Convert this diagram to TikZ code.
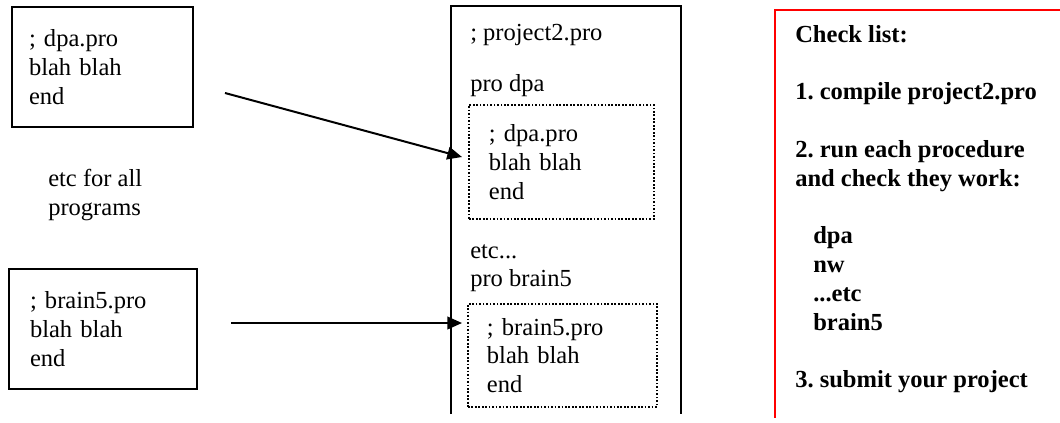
\documentclass[tikz,border=0pt]{standalone}
\usepackage{fontspec}
\setmainfont{Liberation Serif}
\usetikzlibrary{arrows.meta}
\frenchspacing

\newcommand{\codefont}{\fontsize{18.4}{21.6}\selectfont}

\tikzset{
  codebox/.style={draw, line width=1.5pt, anchor=north west, align=left, inner ysep=0pt, font=\codefont},
  inclbox/.style={codebox, line width=1.4pt, dash pattern={on 1.3pt off 1.3pt}},
  plaintext/.style={inner sep=0pt, align=left, font=\codefont},
  arrowline/.style={line width=1.5pt, -{Triangle[length=11pt, width=9.5pt]}}
}

\begin{document}
\begin{tikzpicture}[x=0.75pt,y=0.75pt,yscale=-1,xscale=1]
    \useasboundingbox (0,0) rectangle (1060,422);

    % Single program files
    \node [codebox, inner xsep=12.75pt, text width=110.25pt, minimum height=90pt] (dpafile) at (11,6) {; dpa.pro\\blah blah\\end};
    \node [codebox, inner xsep=15.75pt, text width=109.5pt, minimum height=90pt] (brainfile) at (8,268) {; brain5.pro\\blah blah\\end};
    % Text Node
    \node [plaintext, anchor=north west] (etcnote) at (48,169) {etc for all\\programs};

    % Project file (open at the bottom)
    \draw [line width=1.5pt] (451,414) -- (451,6) -- (681,6) -- (681,414);
    % Text Node
    \node [plaintext, anchor=base west] (projhead) at (470,40) {; project2.pro};
    % Text Node
    \node [plaintext, anchor=base west] (prodpa) at (470,91) {pro dpa};
    \node [inclbox, inner xsep=15pt, text width=108.75pt, minimum height=85.5pt] (dpabox) at (468,104) {; dpa.pro\\blah blah\\end};
    % Text Node
    \node [plaintext, anchor=north west] (probrain) at (470,244) {etc...\\pro brain5};
    \node [inclbox, inner xsep=14.25pt, text width=113.25pt, minimum height=77.25pt] (brainbox) at (467,303) {; brain5.pro\\blah blah\\end};

    % Arrows
    \coordinate (startA) at (225,93);
    \coordinate (tipA) at (462,157);
    \draw [arrowline] (startA) -- (tipA);
    \coordinate (startB) at (231,323);
    \draw [arrowline, shorten >=3.75pt] (startB) -- (startB -| brainbox.west);

    % Check list (open at right and bottom)
    \draw [red, line width=1.5pt] (1060,10) -- (775,10) -- (775,418);
    % Text Node
    \node [plaintext, anchor=north west, font=\codefont\bfseries] (checklist) at (795,25)
      {Check list:\\[21.6pt]
       1. compile project2.pro\\[21.6pt]
       2. run each procedure\\
       and check they work:\\[21.6pt]
       \hspace*{13.5pt}dpa\\
       \hspace*{13.5pt}nw\\
       \hspace*{13.5pt}...etc\\
       \hspace*{13.5pt}brain5\\[21.6pt]
       3. submit your project};

\end{tikzpicture}
\end{document}
